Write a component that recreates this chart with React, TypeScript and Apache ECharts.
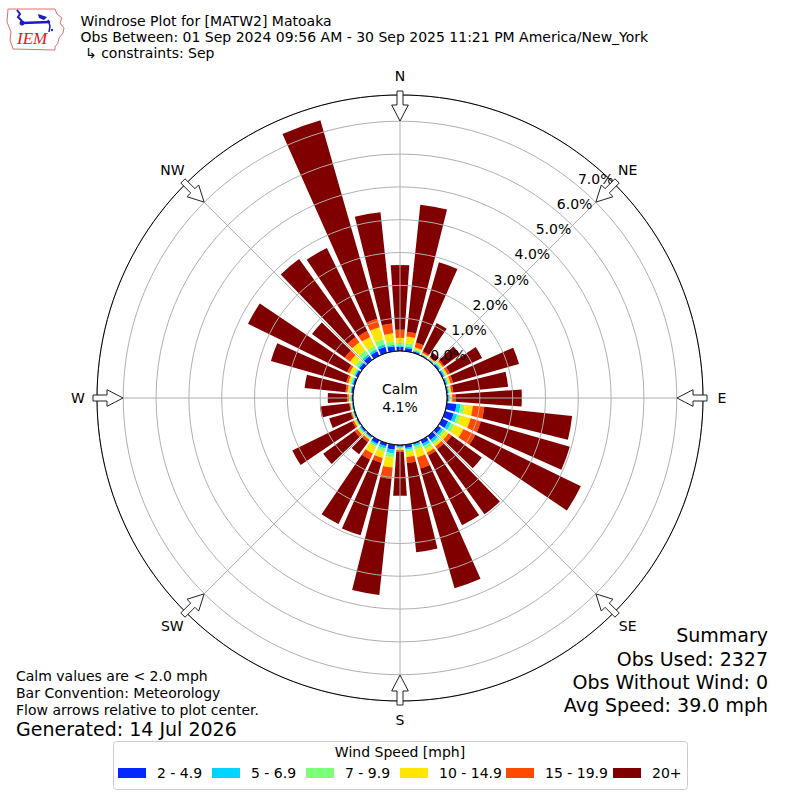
import React, { useEffect, useRef } from 'react';
import * as echarts from 'echarts';

// ---------- data ----------
const DIRECTIONS = [
  '0°', '10°', '20°', '30°', '40°', '50°', '60°', '70°', '80°', '90°', '100°', '110°',
  '120°', '130°', '140°', '150°', '160°', '170°', '180°', '190°', '200°', '210°', '220°', '230°',
  '240°', '250°', '260°', '270°', '280°', '290°', '300°', '310°', '320°', '330°', '340°', '350°',
];
const SPEED_BINS = ['2 - 4.9', '5 - 6.9', '7 - 9.9', '10 - 14.9', '15 - 19.9', '20+'];
const SPEED_COLORS = ['#0028ff', '#00d4ff', '#7cff79', '#ffe600', '#ff4800', '#800000'];

const SPEED_2_49 = [0.13, 0.10, 0.05, 0.03, 0.03, 0.05, 0.05, 0.04, 0.04, 0.05, 0.30, 0.27, 0.20, 0.12, 0.15, 0.12, 0.04, 0.10, 0.05, 0.15, 0.10, 0.12, 0.05, 0.05, 0.04, 0.04, 0.03, 0.04, 0.06, 0.06, 0.08, 0.10, 0.15, 0.15, 0.19, 0.15];
const SPEED_5_69 = [0.04, 0.05, 0.03, 0.02, 0.02, 0.04, 0.04, 0.04, 0.03, 0.03, 0.12, 0.11, 0.10, 0.08, 0.08, 0.08, 0.06, 0.05, 0.03, 0.12, 0.07, 0.05, 0.03, 0.04, 0.02, 0.02, 0.02, 0.03, 0.03, 0.04, 0.04, 0.05, 0.07, 0.07, 0.08, 0.05];
const SPEED_7_99 = [0.08, 0.10, 0.04, 0.02, 0.02, 0.04, 0.04, 0.04, 0.03, 0.03, 0.13, 0.11, 0.12, 0.08, 0.08, 0.10, 0.10, 0.08, 0.03, 0.13, 0.10, 0.06, 0.03, 0.04, 0.03, 0.02, 0.02, 0.02, 0.04, 0.05, 0.06, 0.10, 0.15, 0.12, 0.16, 0.10];
const SPEED_10_149 = [0.15, 0.20, 0.06, 0.03, 0.02, 0.05, 0.05, 0.05, 0.04, 0.05, 0.25, 0.32, 0.30, 0.12, 0.08, 0.12, 0.25, 0.15, 0.05, 0.30, 0.20, 0.22, 0.04, 0.05, 0.04, 0.02, 0.02, 0.04, 0.05, 0.06, 0.10, 0.20, 0.30, 0.30, 0.38, 0.25];
const SPEED_15_199 = [0.25, 0.15, 0.15, 0.05, 0.03, 0.05, 0.08, 0.08, 0.06, 0.10, 0.35, 0.32, 0.40, 0.12, 0.10, 0.10, 0.35, 0.18, 0.05, 0.35, 0.15, 0.20, 0.08, 0.10, 0.06, 0.03, 0.03, 0.05, 0.06, 0.06, 0.08, 0.20, 0.20, 0.20, 0.27, 0.30];
const SPEED_20_PLUS = [1.97, 3.89, 2.54, 0.96, 0.15, 0.60, 1.09, 2.09, 1.68, 2.02, 2.69, 2.82, 3.58, 1.13, 2.46, 2.36, 3.80, 2.73, 1.34, 3.55, 2.30, 2.19, 0.46, 1.18, 2.03, 0.68, 0.90, 0.59, 1.25, 2.39, 3.36, 1.23, 2.93, 2.81, 6.29, 3.41];
const SPEED_SERIES = [SPEED_2_49, SPEED_5_69, SPEED_7_99, SPEED_10_149, SPEED_15_199, SPEED_20_PLUS];

const RADIUS_MAX = 7.8;
const RADIUS_TICK_LABELS = ['0.0%', '1.0%', '2.0%', '3.0%', '4.0%', '5.0%', '6.0%', '7.0%'];
const COMPASS_LABELS = ['N', 'NE', 'E', 'SE', 'S', 'SW', 'W', 'NW'];
const COMPASS_ANGLES = [0, 45, 90, 135, 180, 225, 270, 315];
const CALM_TEXT = ['Calm', '4.1%'];
const TITLE_LINES = [
  'Windrose Plot for [MATW2] Matoaka',
  'Obs Between: 01 Sep 2024 09:56 AM - 30 Sep 2025 11:21 PM America/New_York',
  ' \u21b3 constraints: Sep',
];
const NOTE_LINES = ['Calm values are < 2.0 mph', 'Bar Convention: Meteorology', 'Flow arrows relative to plot center.'];
const GENERATED = 'Generated: 14 Jul 2026';
const SUMMARY_LINES = ['Summary', 'Obs Used: 2327', 'Obs Without Wind: 0', 'Avg Speed: 39.0 mph'];
const LEGEND_TITLE = 'Wind Speed [mph]';

// ---------- layout ----------
const CX = 400;
const CY = 398;
const R_IN = 47;
const R_OUT = 303;
const FONT = 'DejaVu Sans';
const LEGEND_LEFTS = [118, 212, 306, 400, 506, 613];

function polarPt(r: number, s: number, deg: number): number[] {
  const t = (deg * Math.PI) / 180;
  const u = [Math.sin(t), -Math.cos(t)];
  const v = [Math.cos(t), Math.sin(t)];
  return [CX + r * u[0] + s * v[0], CY + r * u[1] + s * v[1]];
}

function arrowPoints(deg: number): number[][] {
  const pts = [[307, -3], [293, -3], [293, -8.3], [277, 0], [293, 8.3], [293, 3], [307, 3]];
  return pts.map(([r, s]) => polarPt(r, s, deg));
}

function txt(text: string, x: number, y: number, size: number, align = 'left', extra: any = {}) {
  return {
    type: 'text',
    x,
    y,
    z: 30,
    style: {
      text,
      fill: '#000',
      fontSize: size,
      fontFamily: FONT,
      align,
      verticalAlign: 'middle',
      ...extra,
    },
  };
}

function buildOption(): any {
  const graphics: any[] = [];

  // Logo
  graphics.push({
    type: 'polygon',
    z: 30,
    shape: {
      points: [[8, 9], [55, 9], [57, 14], [62, 18], [60, 23], [64, 28], [63, 33], [59, 38], [58, 43], [55, 47], [55, 50], [13, 49], [10, 40], [11, 32], [7, 22]],
    },
    style: { fill: 'none', stroke: '#e07070', lineWidth: 1 },
  });
  graphics.push({ type: 'polyline', z: 31, shape: { points: [[17, 10], [20, 14], [18, 17], [22, 21]] }, style: { stroke: '#1a1acc', lineWidth: 2, fill: 'none' } });
  graphics.push({ type: 'line', z: 31, shape: { x1: 22, y1: 23, x2: 50, y2: 22 }, style: { stroke: '#1a1acc', lineWidth: 2.5 } });
  graphics.push({ type: 'circle', z: 31, shape: { cx: 22, cy: 23, r: 2.5 }, style: { fill: '#1a1acc' } });
  graphics.push({ type: 'polygon', z: 31, shape: { points: [[38, 14], [47, 17], [44, 20], [39, 18]] }, style: { fill: '#1a1acc' } });
  graphics.push({ type: 'polyline', z: 31, shape: { points: [[48, 20], [50, 26], [49, 32]] }, style: { stroke: '#1a1acc', lineWidth: 1.5, fill: 'none' } });
  graphics.push({ type: 'circle', z: 31, shape: { cx: 52, cy: 30, r: 1.2 }, style: { fill: '#1a1acc' } });
  graphics.push({
    type: 'text', x: 17, y: 38, z: 31,
    style: { text: 'IEM', fill: '#d42020', fontSize: 17, fontFamily: 'Liberation Serif', fontStyle: 'italic', align: 'left', verticalAlign: 'middle' },
  });

  // Title
  const titleY = [20.7, 36.7, 52.7];
  TITLE_LINES.forEach((t, i) => graphics.push(txt(t, 80.5, titleY[i], 14)));

  // Compass labels & arrows
  COMPASS_LABELS.forEach((lab, i) => {
    const p = polarPt(322, 0, COMPASS_ANGLES[i]);
    graphics.push(txt(lab, p[0], p[1], 14, 'center'));
    graphics.push({
      type: 'polygon',
      z: 25,
      shape: { points: arrowPoints(COMPASS_ANGLES[i]) },
      style: { fill: '#fff', stroke: '#222', lineWidth: 1 },
    });
  });

  // Calm circle
  graphics.push({ type: 'circle', z: 20, shape: { cx: CX, cy: CY, r: R_IN }, style: { fill: '#fff', stroke: '#000', lineWidth: 1 } });
  graphics.push(txt(CALM_TEXT[0], CX, 388.5, 14, 'center'));
  graphics.push(txt(CALM_TEXT[1], CX, 407, 14, 'center'));

  // Notes
  const noteY = [676, 693, 710];
  NOTE_LINES.forEach((t, i) => graphics.push(txt(t, 16, noteY[i], 14)));
  graphics.push(txt(GENERATED, 16, 729, 19));

  // Summary
  const sumY = [635, 659, 682, 705];
  SUMMARY_LINES.forEach((t, i) => graphics.push(txt(t, 768, sumY[i], 19, 'right')));

  // Legend box
  graphics.push({
    type: 'rect', z: 0,
    shape: { x: 113.5, y: 741.5, width: 574, height: 48, r: 3 },
    style: { fill: '#fff', stroke: '#cccccc', lineWidth: 1 },
  });
  graphics.push(txt(LEGEND_TITLE, 400, 752, 14, 'center'));

  const series = SPEED_BINS.map((name, i) => ({
    name,
    type: 'bar',
    coordinateSystem: 'polar',
    polarIndex: 0,
    stack: 'wind',
    barCategoryGap: '20%',
    data: SPEED_SERIES[i],
    itemStyle: { color: SPEED_COLORS[i] },
    z: 1,
  }));

  const legends = SPEED_BINS.map((name, i) => ({
    data: [name],
    left: LEGEND_LEFTS[i],
    top: 766,
    orient: 'horizontal',
    padding: 0,
    itemWidth: 28,
    itemHeight: 10,
    icon: 'rect',
    selectedMode: false,
    z: 5,
    textStyle: { fontSize: 14, color: '#000', fontFamily: FONT, padding: [0, 0, 0, 6] },
  }));

  return {
    animation: false,
    backgroundColor: '#fff',
    textStyle: { fontFamily: FONT },
    polar: [
      { center: [CX, CY], radius: [R_IN, R_OUT] },
      { center: [CX, CY], radius: [R_IN, R_OUT], z: 10 },
      { center: [CX, CY], radius: [R_IN, R_OUT], z: 12 },
    ],
    angleAxis: [
      {
        polarIndex: 0, type: 'category', data: DIRECTIONS, startAngle: 95, clockwise: true,
        axisLine: { show: false }, axisTick: { show: false }, axisLabel: { show: false }, splitLine: { show: false },
      },
      {
        polarIndex: 1, type: 'value', min: 0, max: 360, interval: 45, startAngle: 90, clockwise: true, z: 10,
        axisLine: { show: true, lineStyle: { color: '#000', width: 1 } },
        axisTick: { show: false }, axisLabel: { show: false },
        splitLine: { show: true, lineStyle: { color: '#b0b0b0', width: 1 } },
      },
      {
        polarIndex: 2, type: 'value', min: 0, max: 360, startAngle: 50, clockwise: true,
        axisLine: { show: false }, axisTick: { show: false }, axisLabel: { show: false }, splitLine: { show: false },
      },
    ],
    radiusAxis: [
      {
        polarIndex: 0, type: 'value', min: 0, max: RADIUS_MAX,
        axisLine: { show: false }, axisTick: { show: false }, axisLabel: { show: false }, splitLine: { show: false },
      },
      {
        polarIndex: 1, type: 'value', min: 0, max: RADIUS_MAX, interval: 1, z: 10,
        axisLine: { show: false }, axisTick: { show: false }, axisLabel: { show: false },
        splitLine: { show: true, lineStyle: { color: '#b0b0b0', width: 1 } },
      },
      {
        polarIndex: 2, type: 'value', min: 0, max: RADIUS_MAX, interval: 1, z: 12,
        axisLine: { show: false }, axisTick: { show: false }, splitLine: { show: false },
        axisLabel: {
          show: true, margin: 0, align: 'left', verticalAlign: 'bottom', color: '#000', fontSize: 14, fontFamily: FONT,
          showMaxLabel: false, showMinLabel: true, hideOverlap: false,
          formatter: (v: number) => (Number.isInteger(v) && RADIUS_TICK_LABELS[v] ? RADIUS_TICK_LABELS[v] : ''),
        },
      },
    ],
    legend: legends,
    series,
    graphic: { elements: graphics },
  };
}

export default function App() {
  const ref = useRef<HTMLDivElement>(null);
  useEffect(() => {
    document.body.style.margin = '0';
    const chart = echarts.init(ref.current as HTMLDivElement, null, { renderer: 'svg' });
    chart.setOption(buildOption());
    return () => chart.dispose();
  }, []);
  return <div ref={ref} style={{ width: 800, height: 800 }} />;
}
